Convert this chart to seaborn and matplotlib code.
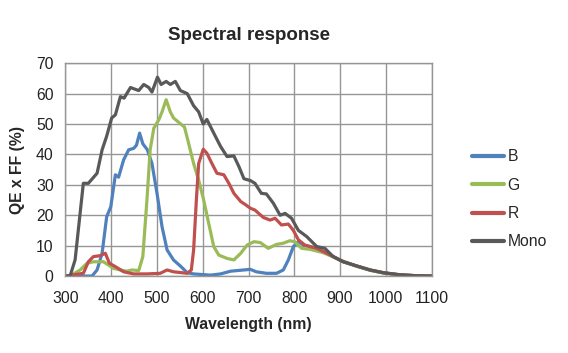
import numpy as np
import pandas as pd
import matplotlib
matplotlib.use("Agg")
import matplotlib.pyplot as plt
import seaborn as sns

# --- values (wavelength nm, QE x FF %) ---
b_nm = [300, 358, 369, 380, 390, 399, 409, 416, 427, 438, 449, 455, 462, 469, 479, 489,
        500, 511, 522, 536, 551, 566, 580, 617, 639, 661, 704, 717, 739, 761, 776, 787,
        798, 809, 820, 849, 871, 907, 937, 966, 995, 1031, 1067, 1100]
b_qe = [0, 0, 2, 7.5, 19.5, 22.8, 33.3, 32.5, 38.2, 41.5, 42, 43, 47, 43.5, 41.5, 37,
        27.2, 16.2, 8.6, 5.3, 3.3, 1.1, 0.7, 0.3, 0.7, 1.6, 2.2, 1.4, 0.9, 0.9, 2, 5.3,
        9.7, 11.3, 10.2, 9.1, 7.5, 4.7, 3.2, 1.9, 1.0, 0.4, 0.1, 0]

g_nm = [300, 310, 332, 347, 361, 383, 394, 405, 420, 434, 445, 460, 469, 478, 485, 493,
        504, 511, 520, 529, 536, 547, 560, 569, 580, 591, 602, 613, 624, 635, 653, 668,
        683, 697, 712, 726, 743, 761, 776, 790, 801, 816, 834, 863, 900, 937, 966, 995,
        1031, 1067, 1100]
g_qe = [0, 0, 2, 4.2, 4.7, 4.7, 3.6, 2.5, 2, 1.6, 2, 1.8, 6.4, 25, 41.5, 48.6,
        51.4, 54, 58, 54, 52, 50.6, 49, 43.7, 37, 31.6, 25, 17.3, 9.7, 6.9, 5.8, 5.3,
        7.5, 10.2, 11.3, 11, 9.1, 10.4, 10.8, 11.6, 11.3, 9.1, 8.8, 7.7, 5.3, 3.2, 1.9, 1.0,
        0.4, 0.1, 0]

r_nm = [300, 339, 350, 361, 376, 387, 396, 409, 427, 449, 478, 507, 522, 536, 566, 575,
        580, 586, 591, 601, 609, 620, 631, 646, 657, 668, 683, 694, 704, 714, 732, 747,
        758, 772, 787, 798, 809, 823, 849, 871, 907, 937, 966, 995, 1031, 1067, 1100]
r_qe = [0, 0.9, 4.7, 6.4, 6.7, 7.5, 4.2, 3.1, 1.4, 0.7, 0.7, 0.9, 2, 1.4, 0.9, 2,
        8.6, 25, 37, 41.7, 40.4, 37, 33.8, 33.3, 30.5, 27.2, 24.5, 23.4, 22.3, 21.7, 19.3, 18.4,
        19, 16.8, 17.1, 15, 11.9, 10.2, 9.1, 7.5, 4.7, 3.3, 2, 1.1, 0.4, 0.1, 0]

m_nm = [300, 310, 321, 339, 350, 369, 380, 390, 401, 409, 420, 428, 442, 460, 471, 482,
        489, 501, 509, 520, 529, 540, 551, 566, 580, 591, 601, 609, 624, 639, 653, 668,
        679, 690, 704, 714, 728, 739, 754, 769, 780, 794, 809, 827, 849, 867, 885, 907,
        937, 966, 995, 1031, 1067, 1100]
m_qe = [0, 0, 5.3, 30.5, 30.5, 33.8, 41.5, 46, 52, 53, 59, 58.5, 62, 61, 63, 62,
        60.5, 65.4, 63, 64, 63, 64, 61, 60, 56, 54, 50, 51.5, 47, 42.6, 39.3, 39.5,
        36, 32, 31.4, 30.5, 27.2, 27, 24, 20, 20.6, 19, 15, 13, 9.7, 9.1, 6.4, 4.7,
        3.3, 2, 1.1, 0.4, 0.1, 0]

series = ["B", "G", "R", "Mono"]
colors = ["#4F81BD", "#9BBB59", "#C0504D", "#595959"]
x_ticks = [300, 400, 500, 600, 700, 800, 900, 1000, 1100]
y_ticks = [0, 10, 20, 30, 40, 50, 60, 70]

df = pd.concat([
    pd.DataFrame({"nm": x, "qe": y, "ch": name})
    for x, y, name in zip([b_nm, g_nm, r_nm, m_nm], [b_qe, g_qe, r_qe, m_qe], series)
], ignore_index=True)

sns.set_style("white")
plt.rcParams["font.family"] = ["Liberation Sans", "DejaVu Sans"]

fig = plt.figure(figsize=(5.68, 3.53), dpi=100)
ax = fig.add_axes([0.1153, 0.218, 0.6445, 0.603])

sns.lineplot(data=df, x="nm", y="qe", hue="ch", hue_order=series,
             palette=colors, linewidth=2.3, sort=False, ax=ax)

ax.set_xlim(300, 1100)
ax.set_ylim(0, 70)
ax.set_xticks(x_ticks)
ax.set_yticks(y_ticks)
ax.grid(True, color="#969696", linewidth=1.0)
ax.set_axisbelow(True)
for s in ax.spines.values():
    s.set_color("#969696")
    s.set_linewidth(1.0)
ax.tick_params(axis="both", length=0, labelsize=11.3, colors="#222222")
ax.tick_params(axis="x", pad=11)
ax.tick_params(axis="y", pad=8.5)

ax.set_xlabel("Wavelength (nm)", fontsize=11.3, fontweight="bold", labelpad=8)
ax.set_ylabel("QE x FF (%)", fontsize=11.3, fontweight="bold", labelpad=8)
ax.set_title("Spectral response", fontsize=13.5, fontweight="bold", pad=17)

leg = ax.legend(loc="center left", bbox_to_anchor=(1.072, 0.36), frameon=False,
                fontsize=11.3, handlelength=2.05, handletextpad=0.2, labelspacing=0.85)
for line in leg.get_lines():
    line.set_linewidth(3)

fig.savefig("out.png", dpi=100)
